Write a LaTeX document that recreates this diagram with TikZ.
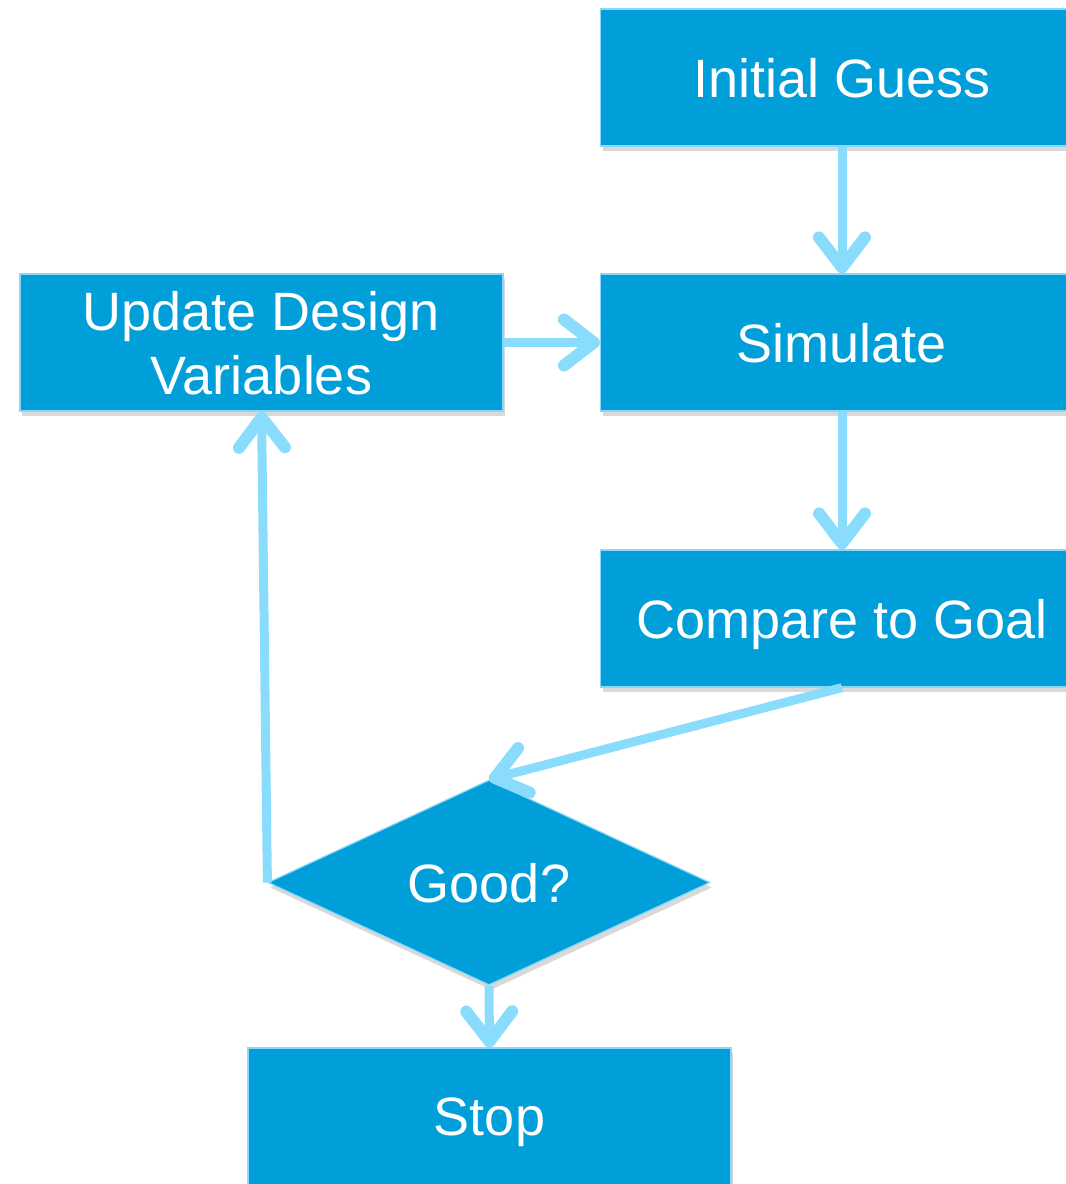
\documentclass[tikz,border=0pt]{standalone}
\usepackage{fontspec}
\setmainfont{Liberation Sans}
\usetikzlibrary{shapes.geometric,arrows.meta,shadows}
\definecolor{boxblue}{HTML}{009FDA}
\definecolor{rimblue}{HTML}{8AD8F8}
\definecolor{flowblue}{HTML}{8ADCFC}
\begin{document}
\begin{tikzpicture}[x=1pt,y=-1pt,
  stepbox/.style={rectangle,fill=boxblue,draw=rimblue,line width=1.2pt,text=white,
    minimum width=483pt,minimum height=137pt,inner sep=0pt,align=center,text depth=0pt,
    font=\fontsize{54}{64}\selectfont,
    drop shadow={shadow xshift=2pt,shadow yshift=-5pt,opacity=0.3}},
  check/.style={diamond,aspect=2.16,fill=boxblue,draw=rimblue,line width=1.2pt,text=white,
    minimum width=442pt,minimum height=205pt,inner sep=0pt,text depth=0pt,
    font=\fontsize{54}{64}\selectfont,
    drop shadow={shadow xshift=2pt,shadow yshift=-5pt,opacity=0.3}},
  flow/.style={draw=flowblue,line width=9pt,
    -{Straight Barb[round,length=30pt,width=46pt,line width=12pt]}}]
\useasboundingbox (0,0) rectangle (1066,1184);
\node[stepbox] (init) at (842,77.5) {Initial Guess};
\node[stepbox] (sim) at (842,342.5) {Simulate};
\node[stepbox] (cmp) at (842,618.5) {Compare to Goal};
\node[stepbox] (upd) at (261.5,342.5) {Update Design\\Variables};
\node[check] (good) at (489,882.5) {Good?};
\node[stepbox] (stop) at (489.5,1116.5) {Stop};
\draw[flow] (init.south) -- (sim.north);
\draw[flow] (upd.east) -- (sim.west);
\draw[flow] (sim.south) -- (cmp.north);
\draw[flow] (cmp.south) -- (good.north);
\draw[flow] (good.west) -- (upd.south);
\draw[flow] (good.south) -- (stop.north);
\end{tikzpicture}
\end{document}
